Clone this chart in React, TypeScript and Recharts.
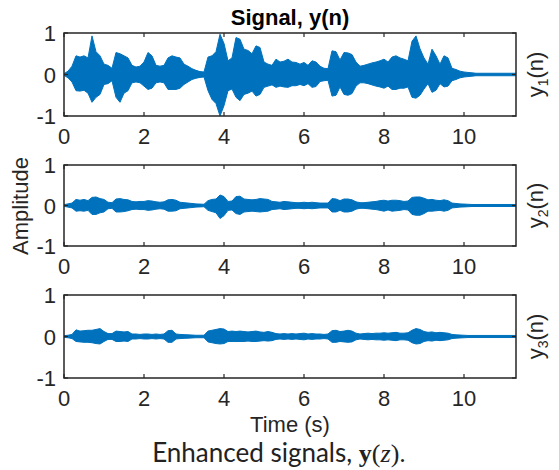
import React from 'react'
import { AreaChart, Area, XAxis, YAxis, ReferenceArea } from 'recharts'

const BLUE = '#0072BD'
const INK = '#262626'
const SANS = '"Liberation Sans", Arial, Helvetica, sans-serif'

const WIDTH = 559
const HEIGHT = 470
const PLOT_LEFT = 64
const PLOT_RIGHT = 516
const PAD_TOP = 20
const X_AXIS_H = 40

const T_MAX = 11.3
const STEP = 0.1
const TIME_TICKS = [0, 2, 4, 6, 8, 10]
const AMP_TICKS = [-1, 0, 1]

// envelope of each signal, one sample every 0.1 s from 0 to 11.3 s
const Y1_HI = [
  0.02, 0.08, 0.2, 0.45, 0.42, 0.45, 0.4, 0.93, 0.55, 0.45,
  0.25, 0.22, 0.15, 0.53, 0.5, 0.45, 0.4, 0.22, 0.18, 0.2,
  0.3, 0.53, 0.45, 0.22, 0.2, 0.22, 0.4, 0.45, 0.42, 0.4,
  0.25, 0.2, 0.14, 0.1, 0.07, 0.06, 0.42, 0.45, 0.55, 0.97,
  0.75, 0.33, 0.4, 0.89, 0.85, 0.61, 0.58, 0.5, 0.69, 0.65,
  0.3, 0.25, 0.22, 0.37, 0.3, 0.32, 0.37, 0.3, 0.29, 0.25,
  0.29, 0.22, 0.33, 0.3, 0.2, 0.15, 0.14, 0.57, 0.55, 0.35,
  0.53, 0.52, 0.48, 0.3, 0.2, 0.22, 0.25, 0.28, 0.3, 0.33,
  0.37, 0.3, 0.42, 0.45, 0.4, 0.37, 0.33, 0.8, 0.93, 0.62,
  0.4, 0.25, 0.61, 0.45, 0.25, 0.45, 0.4, 0.15, 0.12, 0.08,
  0.06, 0.05, 0.04, 0.03, 0.03, 0.03, 0.03, 0.03, 0.03, 0.03,
  0.03, 0.03, 0.03, 0.03,
]
const Y1_LO = [
  -0.02, -0.08, -0.18, -0.39, -0.4, -0.38, -0.45, -0.67, -0.55, -0.48,
  -0.24, -0.22, -0.15, -0.55, -0.67, -0.45, -0.39, -0.2, -0.18, -0.2,
  -0.28, -0.36, -0.33, -0.2, -0.18, -0.2, -0.36, -0.36, -0.36, -0.33,
  -0.24, -0.18, -0.12, -0.09, -0.07, -0.06, -0.39, -0.6, -0.7, -1.0,
  -0.75, -0.39, -0.35, -0.55, -0.63, -0.48, -0.45, -0.4, -0.52, -0.48,
  -0.31, -0.28, -0.25, -0.31, -0.28, -0.3, -0.31, -0.27, -0.27, -0.24,
  -0.27, -0.22, -0.31, -0.29, -0.17, -0.15, -0.14, -0.52, -0.5, -0.3,
  -0.48, -0.5, -0.46, -0.28, -0.2, -0.2, -0.22, -0.25, -0.28, -0.3,
  -0.33, -0.28, -0.36, -0.36, -0.33, -0.33, -0.3, -0.55, -0.57, -0.5,
  -0.35, -0.22, -0.43, -0.38, -0.22, -0.3, -0.28, -0.15, -0.12, -0.08,
  -0.06, -0.05, -0.04, -0.03, -0.03, -0.03, -0.03, -0.03, -0.03, -0.03,
  -0.03, -0.03, -0.03, -0.03,
]

const Y2_HI = [
  0.02, 0.04, 0.06, 0.15, 0.13, 0.15, 0.12, 0.2, 0.21, 0.17,
  0.15, 0.08, 0.07, 0.16, 0.17, 0.15, 0.14, 0.1, 0.09, 0.1,
  0.1, 0.12, 0.11, 0.09, 0.08, 0.09, 0.14, 0.15, 0.13, 0.08,
  0.07, 0.06, 0.05, 0.04, 0.035, 0.03, 0.12, 0.15, 0.16, 0.26,
  0.22, 0.1, 0.11, 0.22, 0.23, 0.16, 0.15, 0.14, 0.15, 0.17,
  0.16, 0.15, 0.1, 0.09, 0.08, 0.1, 0.09, 0.08, 0.07, 0.07,
  0.08, 0.07, 0.08, 0.07, 0.06, 0.06, 0.06, 0.17, 0.16, 0.12,
  0.16, 0.16, 0.14, 0.09, 0.07, 0.07, 0.08, 0.09, 0.1, 0.12,
  0.13, 0.11, 0.13, 0.13, 0.12, 0.1, 0.11, 0.2, 0.21, 0.21,
  0.18, 0.14, 0.15, 0.13, 0.12, 0.14, 0.12, 0.06, 0.05, 0.04,
  0.035, 0.03, 0.025, 0.025, 0.025, 0.025, 0.025, 0.025, 0.025, 0.025,
  0.025, 0.025, 0.025, 0.025,
]
const Y2_LO = [
  -0.02, -0.04, -0.06, -0.14, -0.13, -0.14, -0.12, -0.22, -0.22, -0.18,
  -0.16, -0.08, -0.07, -0.16, -0.16, -0.15, -0.13, -0.1, -0.09, -0.1,
  -0.1, -0.12, -0.11, -0.09, -0.08, -0.09, -0.14, -0.14, -0.13, -0.08,
  -0.07, -0.06, -0.05, -0.04, -0.035, -0.03, -0.12, -0.15, -0.18, -0.32,
  -0.25, -0.12, -0.11, -0.2, -0.22, -0.16, -0.15, -0.14, -0.15, -0.16,
  -0.15, -0.14, -0.1, -0.09, -0.08, -0.1, -0.09, -0.08, -0.07, -0.07,
  -0.08, -0.07, -0.08, -0.07, -0.06, -0.06, -0.06, -0.16, -0.16, -0.12,
  -0.16, -0.16, -0.14, -0.09, -0.07, -0.07, -0.08, -0.09, -0.1, -0.12,
  -0.14, -0.11, -0.14, -0.13, -0.12, -0.1, -0.11, -0.22, -0.24, -0.24,
  -0.2, -0.14, -0.14, -0.13, -0.12, -0.14, -0.12, -0.06, -0.05, -0.04,
  -0.035, -0.03, -0.025, -0.025, -0.025, -0.025, -0.025, -0.025, -0.025, -0.025,
  -0.025, -0.025, -0.025, -0.025,
]

const Y3_HI = [
  0.02, 0.03, 0.05, 0.16, 0.13, 0.14, 0.15, 0.15, 0.17, 0.19,
  0.12, 0.07, 0.07, 0.13, 0.12, 0.11, 0.12, 0.06, 0.06, 0.05,
  0.06, 0.06, 0.05, 0.06, 0.05, 0.06, 0.14, 0.15, 0.06, 0.05,
  0.045, 0.04, 0.035, 0.03, 0.03, 0.03, 0.13, 0.15, 0.17, 0.19,
  0.18, 0.12, 0.13, 0.12, 0.13, 0.12, 0.11, 0.12, 0.13, 0.11,
  0.1, 0.12, 0.1, 0.07, 0.06, 0.07, 0.06, 0.07, 0.06, 0.07,
  0.08, 0.06, 0.07, 0.06, 0.06, 0.05, 0.06, 0.14, 0.15, 0.12,
  0.13, 0.15, 0.13, 0.08, 0.06, 0.07, 0.08, 0.07, 0.08, 0.08,
  0.09, 0.08, 0.09, 0.1, 0.08, 0.08, 0.09, 0.15, 0.19, 0.17,
  0.12, 0.1, 0.11, 0.09, 0.1, 0.09, 0.08, 0.05, 0.04, 0.035,
  0.03, 0.025, 0.025, 0.025, 0.025, 0.025, 0.025, 0.025, 0.025, 0.025,
  0.025, 0.025, 0.025, 0.025,
]
const Y3_LO = [
  -0.02, -0.03, -0.05, -0.12, -0.13, -0.14, -0.14, -0.15, -0.17, -0.18,
  -0.12, -0.07, -0.07, -0.12, -0.12, -0.11, -0.12, -0.06, -0.06, -0.05,
  -0.06, -0.06, -0.05, -0.06, -0.05, -0.06, -0.14, -0.14, -0.06, -0.05,
  -0.045, -0.04, -0.035, -0.03, -0.03, -0.03, -0.13, -0.15, -0.17, -0.18,
  -0.17, -0.12, -0.12, -0.12, -0.12, -0.12, -0.11, -0.12, -0.12, -0.11,
  -0.1, -0.11, -0.1, -0.07, -0.06, -0.07, -0.06, -0.07, -0.06, -0.07,
  -0.08, -0.06, -0.07, -0.06, -0.06, -0.05, -0.06, -0.14, -0.14, -0.12,
  -0.13, -0.14, -0.13, -0.08, -0.06, -0.07, -0.08, -0.07, -0.08, -0.08,
  -0.09, -0.08, -0.09, -0.1, -0.08, -0.08, -0.09, -0.15, -0.18, -0.17,
  -0.12, -0.1, -0.11, -0.09, -0.1, -0.09, -0.08, -0.05, -0.04, -0.035,
  -0.03, -0.025, -0.025, -0.025, -0.025, -0.025, -0.025, -0.025, -0.025, -0.025,
  -0.025, -0.025, -0.025, -0.025,
]

const PANELS = [
  { sub: '1', hi: Y1_HI, lo: Y1_LO, top: 33, height: 83 },
  { sub: '2', hi: Y2_HI, lo: Y2_LO, top: 165, height: 81 },
  { sub: '3', hi: Y3_HI, lo: Y3_LO, top: 295, height: 83 },
]

// inward ticks top and bottom, label below (MATLAB-style box)
function TimeTick(props: any) {
  const { x, y, payload, plotH } = props
  return (
    <g>
      <line x1={x} x2={x} y1={y} y2={y - 4} stroke={INK} strokeWidth={1.2} />
      <line x1={x} x2={x} y1={y - plotH} y2={y - plotH + 4} stroke={INK} strokeWidth={1.2} />
      <text x={x} y={y + 28} textAnchor="middle" fontSize={22} fontFamily={SANS} fill={INK}>
        {payload.value}
      </text>
    </g>
  )
}

function AmpTick(props: any) {
  const { x, y, payload, plotW } = props
  return (
    <g>
      <line x1={x} x2={x + 4} y1={y} y2={y} stroke={INK} strokeWidth={1.2} />
      <line x1={x + plotW} x2={x + plotW - 4} y1={y} y2={y} stroke={INK} strokeWidth={1.2} />
      <text x={x - 8} y={y + 8} textAnchor="end" fontSize={22} fontFamily={SANS} fill={INK}>
        {String(payload.value)}
      </text>
    </g>
  )
}

function Panel({ hi, lo, top, height }: { hi: number[]; lo: number[]; top: number; height: number }) {
  const rows = hi.map((h, i) => ({ t: Math.round(i * STEP * 10) / 10, env: [lo[i], h] }))
  return (
    <div style={{ position: 'absolute', left: 0, top: top - PAD_TOP }}>
      <AreaChart
        width={WIDTH}
        height={PAD_TOP + height + X_AXIS_H}
        data={rows}
        margin={{ top: PAD_TOP, right: WIDTH - PLOT_RIGHT, bottom: 0, left: 0 }}
      >
        <XAxis
          dataKey="t"
          type="number"
          domain={[0, T_MAX]}
          ticks={TIME_TICKS}
          interval={0}
          height={X_AXIS_H}
          axisLine={false}
          tickLine={false}
          tickSize={0}
          tickMargin={0}
          tick={<TimeTick plotH={height} />}
        />
        <YAxis
          type="number"
          domain={[-1, 1]}
          ticks={AMP_TICKS}
          interval={0}
          width={PLOT_LEFT}
          axisLine={false}
          tickLine={false}
          tickSize={0}
          tickMargin={0}
          tick={<AmpTick plotW={PLOT_RIGHT - PLOT_LEFT} />}
        />
        <Area
          type="linear"
          dataKey="env"
          stroke={BLUE}
          strokeWidth={1}
          fill={BLUE}
          fillOpacity={1}
          dot={false}
          activeDot={false}
          isAnimationActive={false}
        />
        <ReferenceArea x1={0} x2={T_MAX} y1={-1} y2={1} fill="none" stroke={INK} strokeWidth={1.5} />
      </AreaChart>
    </div>
  )
}

export default function App() {
  return (
    <div style={{ position: 'absolute', left: 0, top: 0, width: WIDTH, height: HEIGHT, background: '#fff' }}>
      {PANELS.map((p) => (
        <Panel key={p.sub} hi={p.hi} lo={p.lo} top={p.top} height={p.height} />
      ))}
      <svg width={WIDTH} height={HEIGHT} style={{ position: 'absolute', left: 0, top: 0, pointerEvents: 'none' }}>
        <text x={290} y={25} textAnchor="middle" fontSize={22} fontWeight="bold" fontFamily={SANS} fill="#000">
          Signal, y(n)
        </text>
        <text
          transform="translate(28, 206) rotate(-90)"
          textAnchor="middle"
          fontSize={22}
          fontFamily={SANS}
          fill={INK}
        >
          Amplitude
        </text>
        {PANELS.map((p) => (
          <text
            key={p.sub}
            transform={`translate(543, ${p.top + p.height / 2}) rotate(-90)`}
            textAnchor="middle"
            fontSize={22}
            fontFamily={SANS}
            fill={INK}
          >
            y<tspan fontSize={14} dy={5}>{p.sub}</tspan>
            <tspan dy={-5}>(n)</tspan>
          </text>
        ))}
        <text x={290} y={432} textAnchor="middle" fontSize={22} fontFamily={SANS} fill={INK}>
          Time (s)
        </text>
        <text x={279} y={462} textAnchor="middle" fontSize={26} fill="#222">
          <tspan fontFamily="Lato, sans-serif">Enhanced signals, </tspan>
          <tspan fontFamily='"Liberation Serif", serif' fontWeight="bold">y</tspan>
          <tspan fontFamily='"Liberation Serif", serif'>(</tspan>
          <tspan fontFamily='"Liberation Serif", serif' fontStyle="italic">z</tspan>
          <tspan fontFamily='"Liberation Serif", serif'>).</tspan>
        </text>
      </svg>
    </div>
  )
}
